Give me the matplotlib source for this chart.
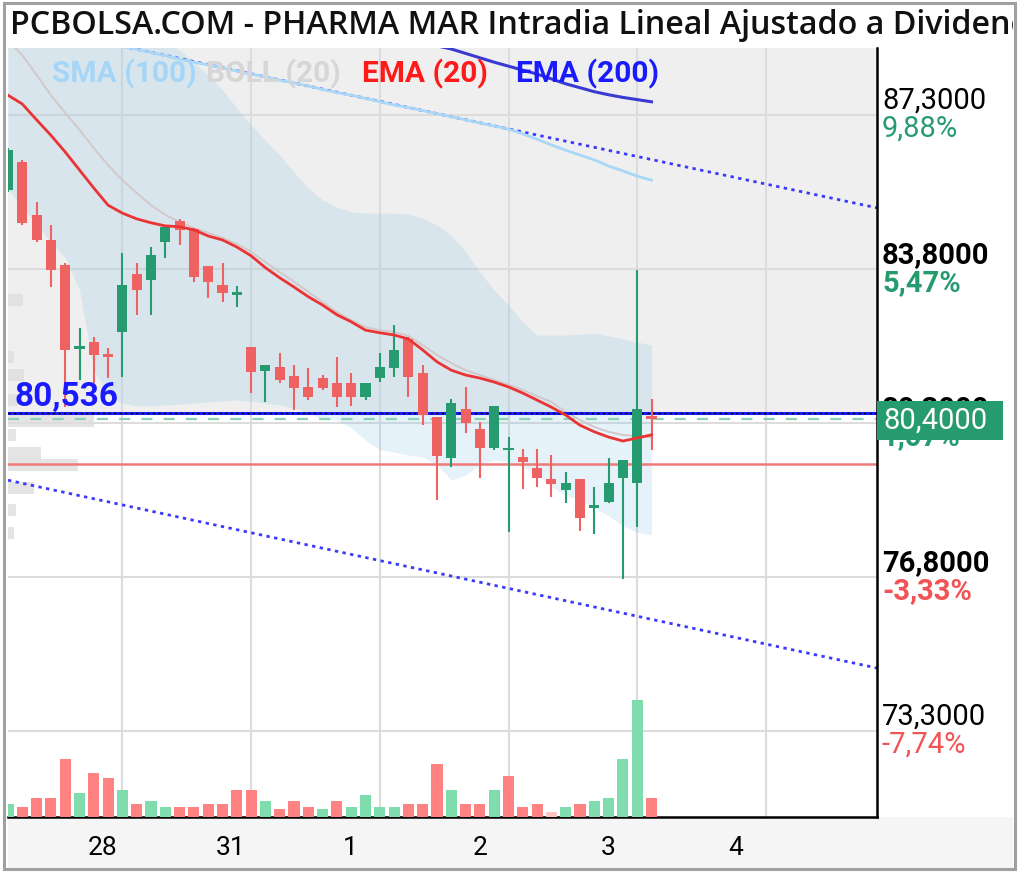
import matplotlib
matplotlib.use('Agg')
import matplotlib.pyplot as plt
import matplotlib.transforms as mtransforms
from matplotlib.patches import Rectangle
import numpy as np

plt.rcParams['font.family'] = ['Roboto', 'DejaVu Sans']

# 10-minute bars, PHARMA MAR
opens = [85.60, 86.23, 85.03, 84.46, 83.89, 81.99, 82.14, 81.83, 82.37, 83.69,
         83.55, 84.41, 84.89, 84.71, 83.87, 83.44, 83.21, 82.03, 81.48, 81.57,
         81.37, 81.12, 81.32, 81.21, 81.21, 80.89, 81.32, 81.55, 82.21, 81.44,
         80.44, 79.50, 80.62, 80.16, 79.73, 79.68, 79.53, 79.28, 79.03, 78.78,
         79.03, 78.37, 78.50, 79.05, 78.94, 80.45]
highs = [86.55, 86.27, 85.32, 84.80, 83.94, 82.46, 82.25, 82.00, 84.16, 83.94,
         84.30, 84.80, 84.94, 84.73, 83.87, 83.94, 83.41, 82.03, 81.62, 81.89,
         81.62, 81.55, 81.39, 81.80, 81.44, 81.21, 81.89, 82.53, 82.25, 81.62,
         80.44, 80.85, 81.12, 80.32, 80.69, 79.98, 79.71, 79.71, 79.57, 79.19,
         79.03, 78.85, 79.50, 79.46, 83.78, 80.85]
lows = [85.55, 84.80, 84.41, 83.39, 80.66, 81.28, 81.21, 81.32, 81.35, 82.75,
        82.75, 84.05, 84.35, 83.50, 83.14, 83.05, 82.94, 80.98, 80.78, 81.21,
        80.60, 80.82, 81.05, 80.66, 80.69, 80.82, 81.23, 81.35, 80.89, 80.25,
        78.55, 79.30, 80.07, 79.05, 79.69, 77.82, 78.80, 78.85, 78.62, 78.48,
        77.85, 77.78, 78.48, 76.75, 77.94, 79.69]
closes = [86.50, 84.85, 84.46, 83.78, 81.96, 82.03, 81.85, 81.80, 83.44, 83.32,
          84.12, 84.75, 84.69, 83.62, 83.50, 83.25, 83.23, 81.46, 81.62, 81.28,
          81.10, 80.89, 81.10, 80.89, 80.89, 81.21, 81.57, 81.96, 81.35, 80.48,
          79.55, 80.75, 80.30, 79.73, 80.69, 79.70, 79.41, 79.05, 78.91, 78.94,
          78.14, 78.39, 78.94, 79.46, 80.62, 80.40]
volumes = [40, 30, 56, 56, 173, 73, 133, 116, 82, 40, 48, 30, 30, 30, 40, 40,
           82, 82, 48, 23, 48, 30, 23, 48, 30, 65, 30, 30, 40, 40, 158, 82,
           40, 40, 82, 123, 30, 40, 15, 30, 40, 48, 56, 173, 350, 56]
vol_dir = ['u', 'd', 'd', 'd', 'd', 'u', 'd', 'd', 'u', 'd', 'u', 'u', 'd', 'd',
           'd', 'd', 'd', 'd', 'u', 'd', 'd', 'd', 'u', 'd', 'u', 'u', 'u', 'u',
           'd', 'd', 'd', 'u', 'd', 'd', 'u', 'd', 'd', 'd', 'n', 'u', 'd', 'u',
           'u', 'u', 'u', 'd']

ema20 = [87.75, 87.55, 87.19, 86.84, 86.46, 86.05, 85.64, 85.25, 85.07, 84.94,
         84.85, 84.78, 84.76, 84.69, 84.55, 84.46, 84.30, 84.10, 83.83, 83.60,
         83.39, 83.17, 82.98, 82.76, 82.60, 82.41, 82.35, 82.30, 82.21, 81.96,
         81.69, 81.50, 81.39, 81.32, 81.23, 81.12, 80.98, 80.82, 80.66, 80.48,
         80.25, 80.10, 79.98, 79.89, 79.96, 80.03]
boll_mid = [89.00, 88.66, 88.21, 87.75, 87.35, 86.96, 86.55, 86.16, 85.82, 85.53,
            85.25, 85.03, 84.87, 84.73, 84.62, 84.51, 84.37, 84.19, 83.96, 83.73,
            83.51, 83.28, 83.05, 82.82, 82.64, 82.48, 82.41, 82.37, 82.28, 82.07,
            81.85, 81.66, 81.50, 81.39, 81.28, 81.17, 81.05, 80.91, 80.78, 80.55,
            80.37, 80.21, 80.10, 80.03, 80.00, 79.98]
boll_up = [91.28, 91.05, 90.82, 90.60, 90.37, 90.14, 89.91, 89.69, 89.50, 89.35,
           89.19, 89.00, 88.78, 88.50, 88.21, 87.87, 87.46, 87.07, 86.73, 86.39,
           86.00, 85.64, 85.37, 85.21, 85.10, 85.07, 85.07, 85.07, 85.05, 84.96,
           84.80, 84.57, 84.19, 83.73, 83.32, 82.98, 82.60, 82.30, 82.30, 82.30,
           82.32, 82.34, 82.28, 82.21, 82.14, 82.07]
boll_low = [85.60, 85.21, 84.80, 84.41, 84.05, 83.32, 81.50, 80.94, 80.75, 80.69,
            80.69, 80.71, 80.73, 80.75, 80.78, 80.80, 80.82, 80.80, 80.75, 80.71,
            80.64, 80.55, 80.37, 80.37, 80.19, 79.91, 79.69, 79.64, 79.57, 79.53,
            79.35, 79.00, 79.12, 79.35, 79.46, 79.41, 79.30, 79.12, 78.85, 78.66,
            78.55, 78.37, 78.19, 77.96, 77.82, 77.75]
sma100 = [89.42, 89.35, 89.28, 89.21, 89.14, 89.07, 89.00, 88.93, 88.86, 88.79,
          88.72, 88.65, 88.57, 88.50, 88.44, 88.37, 88.30, 88.23, 88.17, 88.09,
          88.03, 87.96, 87.88, 87.81, 87.75, 87.68, 87.60, 87.53, 87.47, 87.40,
          87.33, 87.26, 87.19, 87.12, 87.05, 86.98, 86.87, 86.75, 86.62, 86.50,
          86.39, 86.28, 86.14, 86.03, 85.91, 85.82]
ema200 = [91.46, 91.37, 91.28, 91.19, 91.10, 91.00, 90.91, 90.82, 90.75, 90.66,
          90.57, 90.48, 90.39, 90.30, 90.21, 90.12, 90.03, 89.94, 89.85, 89.75,
          89.66, 89.57, 89.48, 89.39, 89.30, 89.21, 89.12, 89.05, 88.99, 88.93,
          88.87, 88.80, 88.70, 88.60, 88.50, 88.41, 88.32, 88.23, 88.12, 88.01,
          87.92, 87.83, 87.76, 87.70, 87.65, 87.60]

# channel trend lines (start / end)
upper_trend = [89.42, 85.19]
lower_trend = [79.00, 74.73]

# volume by price (left edge)
prof_prices = [83.10, 81.80, 81.39, 80.82, 80.35, 80.03, 79.62, 79.35, 78.82, 78.32, 77.80]
prof_widths = [1.05, 0.45, 1.1, 0.7, 6.0, 0.55, 2.3, 4.9, 1.8, 0.55, 0.45]

grid_prices = [87.3, 83.8, 80.3, 76.8, 73.3]
price_labels = ['87,3000', '83,8000', '80,3000', '76,8000', '73,3000']
pct_labels = ['9,88%', '5,47%', '1,07%', '-3,33%', '-7,74%']
label_bold = [False, True, True, True, False]

day_labels = ['28', '31', '1', '2', '3', '4']
day_label_pos = [6.6, 15.6, 23.9, 33.0, 42.0, 50.9]
day_grid_pos = [8, 17, 26, 35, 44, 53]

ref_price = 80.536
last_price = 80.40
prev_close = 79.37

GREEN = '#279b70'
RED = '#ef6262'
W, H = 1020, 874


def fx(px):
    return px / W


def fy(py):
    return 1 - py / H


fig = plt.figure(figsize=(W / 100, H / 100), dpi=100)
fig.patch.set_facecolor('white')

ax = fig.add_axes([fx(8), fy(817), fx(877) - fx(8), fy(48) - fy(817)])
x = np.arange(len(opens))
xmax = (877 - 8) / 14.3
ymin, ymax = 71.345, 88.823
ax.set_xlim(0, xmax)
ax.set_ylim(ymin, ymax)

# background above the reference line
ax.axhspan(ref_price, ymax, color='#efefef', zorder=0, lw=0)

# grid
ax.set_axisbelow(True)
ax.set_yticks(grid_prices)
ax.set_yticklabels([])
ax.set_xticks(day_label_pos, labels=day_labels)
ax.set_xticks(day_grid_pos, minor=True)
ax.grid(axis='y', color='#dcdcdc', lw=1.5)
ax.grid(axis='x', which='minor', color='#dcdcdc', lw=1.5)
ax.tick_params(axis='y', length=0)
ax.tick_params(axis='x', which='both', length=0, pad=14, labelsize=19)

for s in ['top', 'left']:
    ax.spines[s].set_visible(False)
for s in ['right', 'bottom']:
    ax.spines[s].set_color('black')
    ax.spines[s].set_linewidth(1.8)

# volume by price
ax.barh(prof_prices, prof_widths, height=0.26, left=0, color='#dedede', alpha=0.8, zorder=1)

# bollinger band
ax.fill_between(x, boll_low, boll_up, color='#8cc4e8', alpha=0.22, lw=0, zorder=1)
ax.plot(x, boll_mid, color='#d2c8c8', lw=1.4, zorder=2)

# trend channel
ax.plot([0, xmax], upper_trend, color='#3a3aff', lw=2, ls=(0, (1.2, 1.6)), zorder=2)
ax.plot([0, xmax], lower_trend, color='#3a3aff', lw=2, ls=(0, (1.2, 1.6)), zorder=2)

ax.plot(x, sma100, color='#a8d8f5', lw=2, zorder=2)
ax.plot(x, ema200, color='#3a3ad2', lw=2.2, zorder=2)

# horizontal levels
ax.axhline(ref_price, color='#1a1aff', lw=2.2, zorder=2.5)
ax.axhline(ref_price, color='black', lw=1, ls=(0, (1.5, 2.5)), zorder=2.6)
ax.axhline(last_price, color='#8fd0b0', lw=1.6, ls=(0, (5, 5)), zorder=2.5)
ax.axhline(prev_close, color='#f07a7a', lw=1.8, zorder=2.5)

# candles
for i in range(len(opens)):
    o, h, l, c = opens[i], highs[i], lows[i], closes[i]
    col = GREEN if c >= o else RED
    ax.vlines(i, l, h, color=col, lw=1.5, zorder=3)
    body = max(abs(c - o), 0.06)
    ax.bar(i, body, bottom=min(o, c), width=0.7, color=col, lw=0, zorder=3)

ax.plot(x, ema20, color='#ea3434', lw=2, zorder=4)

# volume
vcols = {'u': '#7fdcac', 'd': '#ff8282', 'n': '#ffc4c4'}
vax = ax.twinx()
vax.set_ylim(0, 2300)
vax.bar(x, volumes, width=0.78, color=[vcols[d] for d in vol_dir], lw=0)
vax.axis('off')

# right axis labels
blend = mtransforms.blended_transform_factory(ax.transAxes, ax.transData)
for p, pl, pc, b in zip(grid_prices, price_labels, pct_labels, label_bold):
    wt = 'bold' if b else 'normal'
    pcol = GREEN if p > 79.45 else '#f05454'
    ax.annotate(pl, xy=(1, p), xycoords=blend, xytext=(5, 14), textcoords='offset pixels',
                ha='left', va='center', fontsize=21, fontweight=wt, color='black',
                annotation_clip=False)
    ax.annotate(pc, xy=(1, p), xycoords=blend, xytext=(5, -14), textcoords='offset pixels',
                ha='left', va='center', fontsize=21, fontweight=wt, color=pcol,
                annotation_clip=False)

# last price tag
tag_w = (1003 - 877) / 869
ax.add_patch(Rectangle((1.0, 80.36 - 0.443), tag_w, 0.886, transform=blend,
                       facecolor='#279b70', edgecolor='none', clip_on=False, zorder=5))
ax.annotate('80,4000', xy=(1, 80.36), xycoords=blend, xytext=(6, 0), textcoords='offset pixels',
            ha='left', va='center', fontsize=21, color='white', annotation_clip=False, zorder=6)

# reference level label
ax.annotate('80,536', xy=(0, ref_price), xycoords=('axes fraction', 'data'), xytext=(6, 7),
            textcoords='offset pixels', ha='left', va='baseline', fontsize=24,
            fontweight='bold', color='#1a1aff', zorder=6)

# legend
for label, px, col in [('SMA (100)', 52, '#a5d6f7'), ('BOLL (20)', 206, '#d6d6d6'),
                       ('EMA (20)', 362, '#ff1a1a'), ('EMA (200)', 516, '#1a1aff')]:
    fig.text(fx(px), fy(74), label, color=col, fontsize=21.5, fontweight='semibold',
             ha='left', va='center')

# title
fig.text(fx(10), fy(26), 'PCBOLSA.COM - PHARMA MAR Intradia Lineal Ajustado a Dividendos',
         fontsize=23.2, fontweight='semibold', family=['Open Sans', 'DejaVu Sans'],
         ha='left', va='center', color='#111111')

# x label band and outer frame
fig.patches.append(Rectangle((fx(8), fy(868)), fx(1013) - fx(8), fy(817) - fy(868),
                             transform=fig.transFigure, facecolor='#f5f5f5',
                             edgecolor='none', zorder=-1))
fig.patches.append(Rectangle((fx(1013), 0), 1 - fx(1013), 1, transform=fig.transFigure,
                             facecolor='white', edgecolor='none', zorder=9))
fig.patches.append(Rectangle((fx(4), fy(869)), fx(1015) - fx(4), fy(3) - fy(869),
                             transform=fig.transFigure, fill=False,
                             edgecolor='#a0a0a0', lw=2.2, zorder=10))

fig.savefig('out.png', dpi=100)
